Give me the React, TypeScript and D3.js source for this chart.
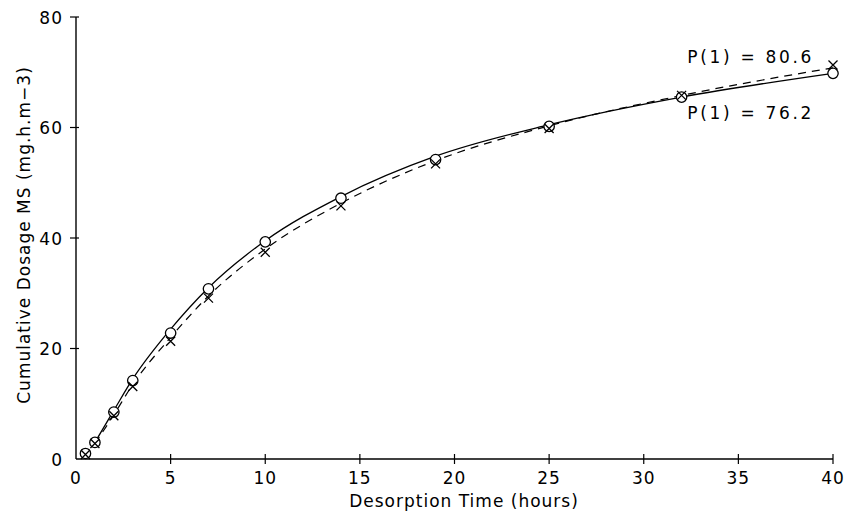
import React, { useEffect, useRef } from "react";
import * as d3 from "d3";

// measured points
const hours = [0.5, 1, 2, 3, 5, 7, 10, 14, 19, 25, 32, 40];
const circleVals = [1, 3, 8.5, 14.2, 22.8, 30.8, 39.3, 47.2, 54.2, 60.2, 65.5, 69.8];
const crossVals = [1, 3, 8, 13.3, 21.5, 29.3, 37.6, 46, 53.6, 60, 66, 71.5];

// fitted curves
const curveHours = [1, 2, 3, 5, 7, 10, 14, 19, 25, 32, 40];
const solidFit = [3, 8.8, 14.5, 23.5, 31, 39.5, 47.5, 54.8, 60.5, 65.5, 69.8];
const dashedFit = [2.8, 8, 13.5, 22, 29.5, 38, 46.3, 54, 60.3, 65.8, 70.8];

const xTicks = [0, 5, 10, 15, 20, 25, 30, 35, 40];
const yTicks = [0, 20, 40, 60, 80];

const notes = [
  { text: "P(1) = 80.6", t: 32.3, v: 71.6 },
  { text: "P(1) = 76.2", t: 32.3, v: 61.5 },
];

const App = () => {
  const ref = useRef<SVGSVGElement>(null);

  useEffect(() => {
    const svg = d3.select(ref.current);
    svg.selectAll("*").remove();
    const font = "'DejaVu Sans', sans-serif";

    const x = d3.scaleLinear().domain([0, 40]).range([76, 833]);
    const y = d3.scaleLinear().domain([0, 80]).range([459, 17]);

    const g = svg.append("g").attr("stroke", "#000").attr("fill", "none");

    // axes lines
    g.append("line").attr("x1", x(0)).attr("x2", x(40)).attr("y1", y(0)).attr("y2", y(0)).attr("stroke-width", 1.4);
    g.append("line").attr("x1", x(0)).attr("x2", x(0)).attr("y1", y(0)).attr("y2", y(80)).attr("stroke-width", 1.4);

    // x ticks
    xTicks.forEach((t) => {
      if (t > 0) {
        g.append("line").attr("x1", x(t)).attr("x2", x(t)).attr("y1", y(0) - 5).attr("y2", y(0) + 5).attr("stroke-width", 1.2);
      }
      svg.append("text").attr("x", x(t)).attr("y", y(0) + 25).attr("text-anchor", "middle")
        .attr("font-family", font).attr("font-size", 17).attr("letter-spacing", 1).text(t);
    });
    yTicks.forEach((v) => {
      if (v > 0) {
        g.append("line").attr("x1", x(0) - 6).attr("x2", x(0) + 3).attr("y1", y(v)).attr("y2", y(v)).attr("stroke-width", 1.2);
      }
      svg.append("text").attr("x", x(0) - 13).attr("y", y(v) + 6.5).attr("text-anchor", "end")
        .attr("font-family", font).attr("font-size", 17).attr("letter-spacing", 1).text(v);
    });

    // axis titles
    svg.append("text").attr("x", 464).attr("y", 507).attr("text-anchor", "middle")
      .attr("font-family", font).attr("font-size", 17).attr("letter-spacing", 1).text("Desorption Time (hours)");
    svg.append("text").attr("transform", "translate(30,235) rotate(-90)").attr("text-anchor", "middle")
      .attr("font-family", font).attr("font-size", 17).attr("letter-spacing", 1).text("Cumulative Dosage MS (mg.h.m\u22123)");

    // fitted lines
    const line = d3.line<number>()
      .x((d, i) => x(curveHours[i]))
      .y((d) => y(d))
      .curve(d3.curveMonotoneX);
    g.append("path").attr("d", line(solidFit)).attr("stroke-width", 1.3);
    g.append("path").attr("d", line(dashedFit)).attr("stroke-width", 1.2).attr("stroke-dasharray", "8,6");

    // markers
    hours.forEach((t, i) => {
      g.append("circle").attr("cx", x(t)).attr("cy", y(circleVals[i])).attr("r", 5.2)
        .attr("stroke-width", 1.3).attr("fill", "#fff");
    });
    hours.forEach((t, i) => {
      const cx = x(t), cy = y(crossVals[i]) + 1, s = 4.5;
      g.append("path").attr("d", `M${cx - s},${cy - s}L${cx + s},${cy + s}M${cx + s},${cy - s}L${cx - s},${cy + s}`)
        .attr("stroke-width", 1.3);
    });

    notes.forEach((n) => {
      svg.append("text").attr("x", x(n.t)).attr("y", y(n.v)).attr("font-family", font)
        .attr("font-size", 17).attr("textLength", 124).attr("lengthAdjust", "spacing").text(n.text);
    });
  }, []);

  return (
    <svg ref={ref} width={849} height={512}
      style={{ position: "absolute", left: 0, top: 0, background: "#fff" }} />
  );
};

export default App;
